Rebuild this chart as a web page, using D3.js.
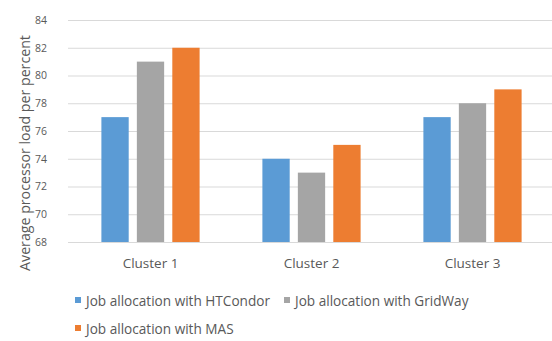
<!DOCTYPE html>
<html>
<head>
<meta charset="utf-8">
<script src="https://cdn.jsdelivr.net/npm/d3@7"></script>
<style>
  html, body { margin: 0; padding: 0; background: #fff; }
  svg { display: block; }
  text { font-family: "Open Sans", "Noto Sans", sans-serif; fill: #595959; }
</style>
</head>
<body>
<svg id="chart" width="552" height="341"></svg>
<script>
// Chart data
const categories = ["Cluster 1", "Cluster 2", "Cluster 3"];
const seriesNames = [
  "Job allocation with HTCondor",
  "Job allocation with GridWay",
  "Job allocation with MAS"
];
const htcondorValues = [77, 74, 77];
const gridwayValues = [81, 73, 78];
const masValues = [82, 75, 79];
const yTicks = [68, 70, 72, 74, 76, 78, 80, 82, 84];
const yLabel = "Average processor load per percent";

const seriesValues = [htcondorValues, gridwayValues, masValues];
const colors = ["#5b9bd5", "#a5a5a5", "#ed7d31"];

const svg = d3.select("#chart");
const plot = { left: 70, right: 553, top: 20, bottom: 242 };

const x0 = d3.scaleBand()
  .domain(categories)
  .range([plot.left, plot.right])
  .paddingInner(0.39)
  .paddingOuter(0.195);

const x1 = d3.scaleBand()
  .domain(d3.range(seriesNames.length))
  .range([0, x0.bandwidth()])
  .paddingInner(0.23);

const y = d3.scaleLinear()
  .domain([68, 84])
  .range([plot.bottom, plot.top]);

// Horizontal gridlines
svg.append("g")
  .selectAll("line")
  .data(yTicks.filter(t => t > 68))
  .join("line")
  .attr("x1", plot.left - 2)
  .attr("x2", 552)
  .attr("y1", d => y(d) + 0.5)
  .attr("y2", d => y(d) + 0.5)
  .attr("stroke", "#d9d9d9")
  .attr("stroke-width", 1);

// Y axis tick labels
const yAxis = d3.axisLeft(y).tickValues(yTicks).tickSize(0).tickPadding(0);
svg.append("g")
  .attr("transform", `translate(47,0)`)
  .call(yAxis)
  .call(g => g.select(".domain").remove())
  .call(g => g.selectAll("text")
    .attr("font-size", 10.5)
    .attr("fill", "#595959")
    .attr("font-family", "Open Sans"));

// Bars
const groups = svg.append("g")
  .selectAll("g")
  .data(categories)
  .join("g")
  .attr("transform", d => `translate(${x0(d)},0)`);

groups.selectAll("rect")
  .data((d, i) => seriesValues.map((vals, s) => ({ s, v: vals[i] })))
  .join("rect")
  .attr("x", d => x1(d.s))
  .attr("width", x1.bandwidth())
  .attr("y", d => y(d.v))
  .attr("height", d => y(68) - y(d.v))
  .attr("fill", d => colors[d.s]);

// X axis baseline and category labels
svg.append("line")
  .attr("x1", plot.left - 2)
  .attr("x2", 552)
  .attr("y1", plot.bottom + 0.5)
  .attr("y2", plot.bottom + 0.5)
  .attr("stroke", "#d9d9d9");

const xAxis = d3.axisBottom(x0).tickSize(0).tickPadding(0);
svg.append("g")
  .attr("transform", `translate(0,${plot.bottom + 26})`)
  .call(xAxis)
  .call(g => g.select(".domain").remove())
  .call(g => g.selectAll("text")
    .attr("dy", 0)
    .attr("font-size", 13.5)
    .attr("fill", "#595959")
    .attr("font-family", "Open Sans"));

// Y axis title
svg.append("text")
  .attr("transform", `translate(24,153) rotate(-90)`)
  .attr("text-anchor", "middle")
  .attr("dominant-baseline", "central")
  .attr("font-size", 14.2)
  .text(yLabel);

// Legend
const legendPos = [
  { x: 75, y: 300 },
  { x: 284, y: 300 },
  { x: 75, y: 328 }
];
const legend = svg.append("g")
  .selectAll("g")
  .data(seriesNames)
  .join("g")
  .attr("transform", (d, i) => `translate(${legendPos[i].x},${legendPos[i].y})`);

legend.append("rect")
  .attr("x", 0)
  .attr("y", -3)
  .attr("width", 6)
  .attr("height", 6)
  .attr("fill", (d, i) => colors[i]);

legend.append("text")
  .attr("x", 11)
  .attr("y", 0)
  .attr("dominant-baseline", "central")
  .attr("font-size", 13.6)
  .text(d => d);
</script>
</body>
</html>
